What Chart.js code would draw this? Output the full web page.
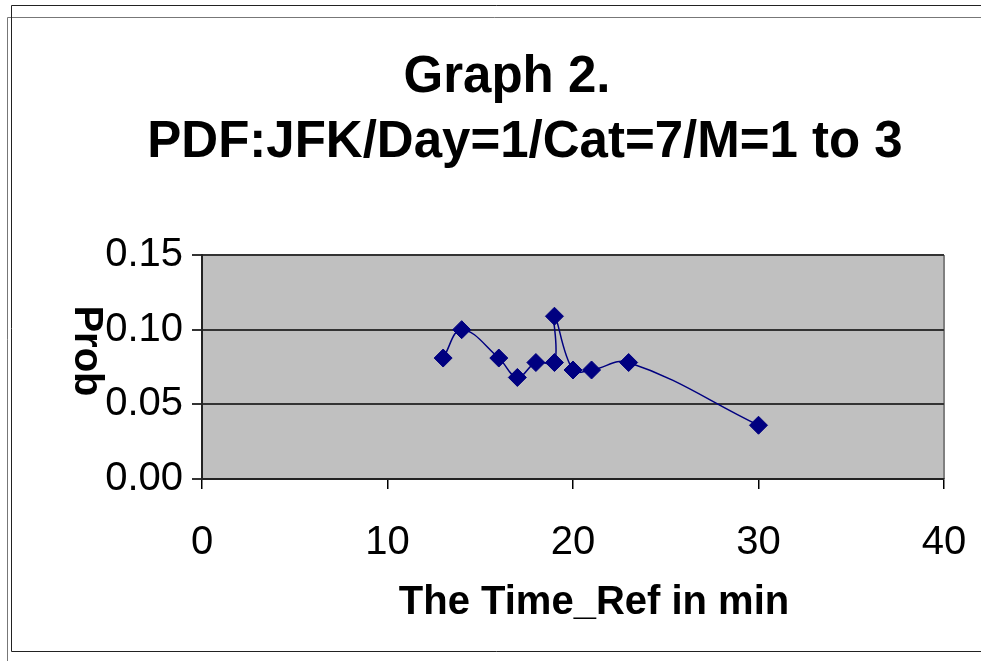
<!DOCTYPE html>
<html>
<head>
<meta charset="utf-8">
<script src="https://cdn.jsdelivr.net/npm/chart.js@4.4.0/dist/chart.umd.min.js"></script>
<style>
  html, body { margin: 0; padding: 0; background: #ffffff; }
  #wrap { position: relative; width: 981px; height: 661px; }
  canvas { display: block; }
</style>
</head>
<body>
<div id="wrap"><canvas id="c" width="981" height="661"></canvas></div>
<script>
// ---- data ----
const titleLines = ["Graph 2.", "PDF:JFK/Day=1/Cat=7/M=1 to 3"];
const xAxisTitle = "The Time_Ref in min";
const yAxisTitle = "Prob";
const timeRefMin = [13, 14, 16, 17, 18, 19, 19, 20, 21, 23, 30];
const probValues = [0.081, 0.100, 0.081, 0.068, 0.078, 0.078, 0.109, 0.073, 0.073, 0.078, 0.036];
const xTicks = [0, 10, 20, 30, 40];
const yTicks = [0.00, 0.05, 0.10, 0.15];

const FONT = "'Liberation Sans', Arial, sans-serif";

const points = timeRefMin.map((x, i) => ({ x: x, y: probValues[i] }));

const decorPlugin = {
  id: 'decor',
  beforeDraw(chart) {
    const ctx = chart.ctx;
    const a = chart.chartArea;
    ctx.save();
    ctx.fillStyle = '#ffffff';
    ctx.fillRect(0, 0, chart.width, chart.height);
    // outer frames
    ctx.lineWidth = 1;
    ctx.strokeStyle = '#777777';
    ctx.beginPath();
    ctx.moveTo(981, 17.5); ctx.lineTo(7.5, 17.5); ctx.lineTo(7.5, 661);
    ctx.stroke();
    ctx.strokeStyle = '#222222';
    ctx.beginPath();
    ctx.moveTo(981, 5.5); ctx.lineTo(11.5, 5.5); ctx.lineTo(11.5, 651.5); ctx.lineTo(981, 651.5);
    ctx.stroke();
    // plot area background
    ctx.fillStyle = '#C0C0C0';
    ctx.fillRect(a.left, a.top, a.right - a.left, a.bottom - a.top);
    ctx.strokeStyle = '#808080';
    ctx.lineWidth = 2;
    ctx.beginPath();
    ctx.moveTo(a.right, a.top); ctx.lineTo(a.right, a.bottom);
    ctx.stroke();
    ctx.restore();
  },
  afterDraw(chart) {
    const ctx = chart.ctx;
    ctx.save();
    ctx.fillStyle = '#000000';
    ctx.textAlign = 'center';
    ctx.textBaseline = 'middle';
    ctx.font = "bold 51px " + FONT;
    ctx.fillText(titleLines[0], 507, 78);
    ctx.fillText(titleLines[1], 525, 143);
    // x-axis title
    ctx.font = "bold 40px " + FONT;
    ctx.fillText(xAxisTitle, 594, 603);
    // rotated y-axis title (reads top to bottom)
    ctx.translate(86, 351);
    ctx.rotate(Math.PI / 2);
    ctx.fillText(yAxisTitle, 0, 0);
    ctx.restore();
  }
};

new Chart(document.getElementById('c'), {
  type: 'line',
  data: {
    datasets: [{
      data: points,
      borderColor: '#000080',
      borderWidth: 1.5,
      backgroundColor: '#000080',
      pointStyle: 'rectRot',
      pointRadius: 9,
      pointHoverRadius: 9,
      pointBorderWidth: 1,
      tension: 0.4,
      fill: false
    }]
  },
  options: {
    responsive: false,
    animation: false,
    devicePixelRatio: 1,
    layout: { padding: { left: 0, right: 37, top: 255, bottom: 0 } },
    plugins: {
      legend: { display: false },
      title: { display: false },
      tooltip: { enabled: false }
    },
    scales: {
      x: {
        type: 'linear',
        min: 0, max: 40,
        afterFit: s => { s.height = 182; s.paddingRight = 0; s.paddingLeft = 0; },
        afterBuildTicks: s => { s.ticks = xTicks.map(v => ({ value: v })); },
        ticks: {
          color: '#000000',
          font: { family: FONT, size: 40 },
          padding: 30,
          maxRotation: 0,
          autoSkip: false
        },
        grid: {
          drawOnChartArea: false,
          drawTicks: true,
          tickLength: 10,
          color: '#000000',
          lineWidth: 1.5
        },
        border: { color: '#222222', width: 2 },
        title: { display: false }
      },
      y: {
        type: 'linear',
        min: 0, max: 0.15,
        afterFit: s => { s.width = 202; s.paddingTop = 0; s.paddingBottom = 0; },
        afterBuildTicks: s => { s.ticks = yTicks.map(v => ({ value: v })); },
        ticks: {
          color: '#000000',
          font: { family: FONT, size: 40 },
          padding: 9,
          callback: v => Number(v).toFixed(2),
          autoSkip: false
        },
        grid: {
          drawOnChartArea: true,
          drawTicks: true,
          tickLength: 10,
          color: '#333333',
          lineWidth: 2
        },
        border: { color: '#222222', width: 2 }
      }
    }
  },
  plugins: [decorPlugin]
});
</script>
</body>
</html>
